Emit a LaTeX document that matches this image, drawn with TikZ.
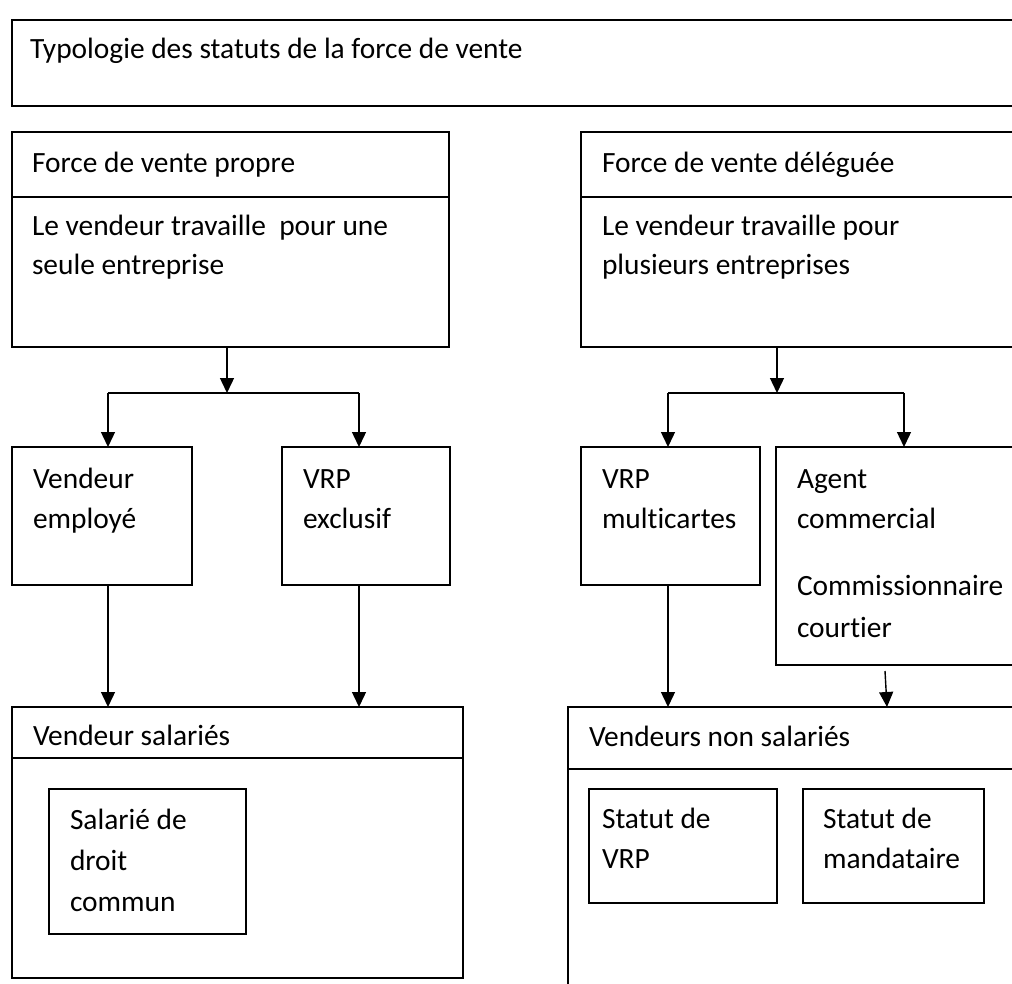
\documentclass[tikz,border=0pt]{standalone}
\usepackage{fontspec}
\setmainfont[Ligatures=NoCommon]{Carlito}
\usetikzlibrary{arrows.meta}
\tikzset{
  box/.style={draw, line width=1.4pt, rectangle, inner sep=0pt, outer sep=0pt, anchor=north west},
  txt/.style={inner sep=0pt, outer sep=0pt, anchor=base west, font=\fontsize{29.4}{35}\selectfont},
  link/.style={line width=1.4pt},
  arr/.style={link, -{Triangle[length=15pt,width=14pt]}},
}
\begin{document}
\begin{tikzpicture}[x=1pt, y=-1pt]
\useasboundingbox (0,0) rectangle (1012,983);
\clip (0,0) rectangle (1012,983);

% title frame
\node[box, minimum width=1018pt, minimum height=86pt] (titre) at (12,20) {};
\node[txt] (ttitre) at (30,58) {Typologie des statuts de la force de vente};

% own sales force
\node[box, minimum width=437pt, minimum height=215pt] (propre) at (12,132) {};
\draw[link] (12,197) -- (449,197);
\node[txt] (tp1) at (32,172) {Force de vente propre};
\node[txt] (tp2) at (32,235) {Le vendeur travaille\ \ pour une};
\node[txt] (tp3) at (32,274) {seule entreprise};

% delegated sales force
\node[box, minimum width=450pt, minimum height=215pt] (delegue) at (581,132) {};
\draw[link] (581,197) -- (1031,197);
\node[txt] (td1) at (602,172) {Force de vente déléguée};
\node[txt] (td2) at (602,235) {Le vendeur travaille pour};
\node[txt] (td3) at (602,274) {plusieurs entreprises};

% second row
\node[box, minimum width=180pt, minimum height=138pt] (employe) at (12,447) {};
\node[txt] (te1) at (33,488) {Vendeur};
\node[txt] (te2) at (33,528) {employé};

\node[box, minimum width=168pt, minimum height=138pt] (exclusif) at (282,447) {};
\node[txt] (tx1) at (303,488) {VRP};
\node[txt] (tx2) at (303,528) {exclusif};

\node[box, minimum width=179pt, minimum height=138pt] (multi) at (581,447) {};
\node[txt] (tm1) at (602,488) {VRP};
\node[txt] (tm2) at (602,528) {multicartes};

\node[box, minimum width=254pt, minimum height=218pt] (agent) at (776,447) {};
\node[txt] (ta1) at (797,488) {Agent};
\node[txt] (ta2) at (797,528) {commercial};
\node[txt] (ta3) at (797,595) {Commissionnaire};
\node[txt] (ta4) at (797,637) {courtier};

% salaried sellers
\node[box, minimum width=451pt, minimum height=271pt] (salaries) at (12,707) {};
\draw[link] (12,758) -- (463,758);
\node[txt] (ts1) at (33,745) {Vendeur salariés};
\node[box, minimum width=197pt, minimum height=145pt] (droit) at (49,789) {};
\node[txt] (tc1) at (70,829) {Salarié de};
\node[txt] (tc2) at (70,870) {droit};
\node[txt] (tc3) at (70,911) {commun};

% non-salaried sellers
\node[box, minimum width=463pt, minimum height=300pt] (nonsal) at (568,707) {};
\draw[link] (568,769) -- (1031,769);
\node[txt] (tn1) at (589,746) {Vendeurs non salariés};
\node[box, minimum width=188pt, minimum height=114pt] (statvrp) at (589,789) {};
\node[txt] (tv1) at (602,828) {Statut de};
\node[txt] (tv2) at (602,868) {VRP};
\node[box, minimum width=181pt, minimum height=114pt] (mandat) at (803,789) {};
\node[txt] (tq1) at (823,828) {Statut de};
\node[txt] (tq2) at (823,868) {mandataire};

% branching connectors
\coordinate (jL) at (227,393);
\coordinate (jL1) at (108,393);
\coordinate (jL2) at (359,393);
\coordinate (jR) at (777,393);
\coordinate (jR1) at (668,393);
\coordinate (jR2) at (904,393);

\draw[arr] (jL |- propre.south) -- (jL);
\draw[link] (jL1) -- (jL2);
\draw[arr] (jL1) -- (jL1 |- employe.north);
\draw[arr] (jL2) -- (jL2 |- exclusif.north);

\draw[arr] (jR |- delegue.south) -- (jR);
\draw[link] (jR1) -- (jR2);
\draw[arr] (jR1) -- (jR1 |- multi.north);
\draw[arr] (jR2) -- (jR2 |- agent.north);

\draw[arr] (jL1 |- employe.south) -- (jL1 |- salaries.north);
\draw[arr] (jL2 |- exclusif.south) -- (jL2 |- salaries.north);
\draw[arr] (jR1 |- multi.south) -- (jR1 |- nonsal.north);
\coordinate (ag) at (885,671);
\draw[arr] (ag) -- ([xshift=2pt]ag |- nonsal.north);
\end{tikzpicture}
\end{document}
